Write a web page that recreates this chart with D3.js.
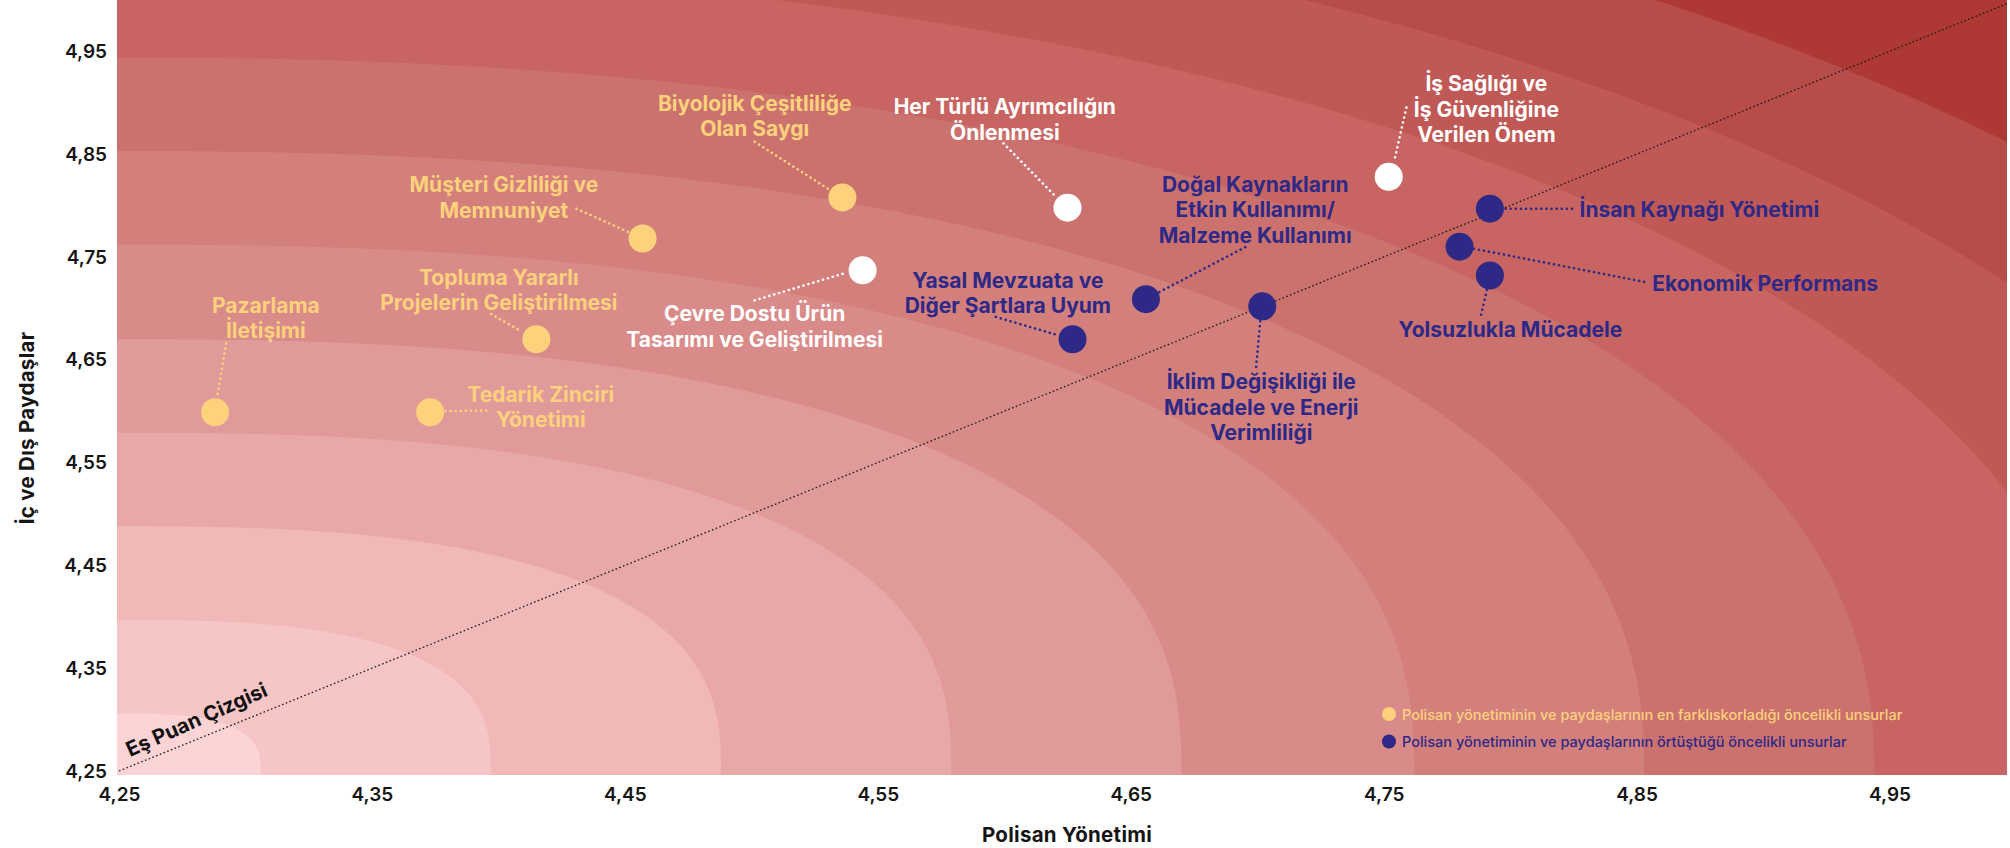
<!DOCTYPE html>
<html>
<head>
<meta charset="utf-8">
<script src="https://cdn.jsdelivr.net/npm/d3@7"></script>
<style>
  html, body { margin: 0; padding: 0; background: #fff; }
  svg { display: block; }
  text { font-family: Inter, "Noto Sans", sans-serif; }
</style>
</head>
<body>
<svg id="chart" width="2010" height="848"></svg>
<script>
// öncelikli unsurlar: Polisan yönetimi puanı (x) ve iç/dış paydaş puanı (y)
const topics = [
    ["Pazarlama", "İletişimi"],
    ["Tedarik Zinciri", "Yönetimi"],
    ["Topluma Yararlı", "Projelerin Geliştirilmesi"],
    ["Müşteri Gizliliği ve", "Memnuniyet"],
    ["Biyolojik Çeşitliliğe", "Olan Saygı"],
    ["Çevre Dostu Ürün", "Tasarımı ve Geliştirilmesi"],
    ["Her Türlü Ayrımcılığın", "Önlenmesi"],
    ["Yasal Mevzuata ve", "Diğer Şartlara Uyum"],
    ["Doğal Kaynakların", "Etkin Kullanımı/", "Malzeme Kullanımı"],
    ["İklim Değişikliği ile", "Mücadele ve Enerji", "Verimliliği"],
    ["İş Sağlığı ve", "İş Güvenliğine", "Verilen Önem"],
    ["İnsan Kaynağı Yönetimi"],
    ["Ekonomik Performans"],
    ["Yolsuzlukla Mücadele"]
];
const managementScores  = [4.288, 4.373, 4.415, 4.457, 4.536, 4.544, 4.625, 4.627, 4.656, 4.702, 4.752, 4.792, 4.780, 4.792];
const stakeholderScores = [4.599, 4.599, 4.670, 4.768, 4.808, 4.737, 4.798, 4.670, 4.709, 4.702, 4.828, 4.797, 4.760, 4.732];
// fark = farklı skorlanan, ortak = örtüşen, diger = işaretsiz (beyaz)
const groups = ["fark", "fark", "fark", "fark", "fark", "diger", "diger", "ortak", "ortak", "ortak", "diger", "ortak", "ortak", "ortak"];

const tickValues = [4.25, 4.35, 4.45, 4.55, 4.65, 4.75, 4.85, 4.95];
const legendLabels = [
    "Polisan yönetiminin ve paydaşlarının en farklıskorladığı öncelikli unsurlar",
    "Polisan yönetiminin ve paydaşlarının örtüştüğü öncelikli unsurlar"
];
const legendGroups = ["fark", "ortak"];

// styling
const groupColor = {fark: "#fed17c", ortak: "#2e2886", diger: "#ffffff"};
const bandLevels = [0.056, 0.147, 0.238, 0.329, 0.42, 0.512, 0.603, 0.694, 0.785, 0.877, 0.968];
const bandColors = ["#fcd4d5", "#f6c5c5", "#f0b8b7", "#e8a8a7", "#e09a99", "#d98b8a",
                    "#d3807d", "#cb726e", "#c86562", "#c05955", "#b84c48", "#ae3834"];

// label placement relative to each point: text offset, anchor, leader start/end
const labelLayout = [
    {dx: 50.7,   dy: -99.7,  anchor: "middle", lead: [11, -68.7, 2, -14.7]},
    {dx: 110.7,  dy: -10.4,  anchor: "middle", lead: [15.3, -1, 56.3, -1.7]},
    {dx: -37.5,  dy: -54.3,  anchor: "middle", lead: [-45.3, -25.3, -14.6, -7.6]},
    {dx: -138.7, dy: -46.3,  anchor: "middle", lead: [-66, -29.7, -13, -6]},
    {dx: -87.7,  dy: -86.6,  anchor: "middle", lead: [-87.7, -55.6, -12.7, -7.6]},
    {dx: -108,   dy: 51,     anchor: "middle", lead: [-108, 30, -15.3, 2]},
    {dx: -62.7,  dy: -93.3,  anchor: "middle", lead: [-64, -64.3, -12.7, -12]},
    {dx: -64.7,  dy: -51.3,  anchor: "middle", lead: [-76.7, -22.3, -14.4, -4]},
    {dx: 109.3,  dy: -107.6, anchor: "middle", lead: [99.3, -52, 13.3, -7]},
    {dx: -1,     dy: 83,     anchor: "middle", lead: [-2, 14.7, -6.3, 62.3]},
    {dx: 97.7,   dy: -85.6,  anchor: "middle", lead: [17.7, -69.3, 5.4, -15.6]},
    {dx: 89.7,   dy: 8,      anchor: "start",  lead: [15.7, 0, 86.7, 0]},
    {dx: 192.7,  dy: 44.4,   anchor: "start",  lead: [14.3, 2, 189, 36]},
    {dx: 20.5,   dy: 61.6,   anchor: "middle", lead: [-3, 14.3, -9.3, 41.6]}
];

const plot = {left: 117, right: 2007, top: 0, bottom: 775};
const fmt = d => d3.format(".2f")(d).replace(".", ",");

const svg = d3.select("#chart");

const x = d3.scaleLinear().domain([4.25, 5.0]).range([119, 2016]);
const y = d3.scaleLinear().domain([4.25, 5.0]).range([771, 0]);

svg.append("clipPath").attr("id", "plotclip")
    .append("rect")
    .attr("x", plot.left).attr("y", plot.top)
    .attr("width", plot.right - plot.left).attr("height", plot.bottom - plot.top);

// background bands
const step = 2;
const nx = Math.ceil((plot.right - plot.left) / step) + 2;
const ny = Math.ceil((plot.bottom - plot.top) / step) + 2;
const grid = new Float64Array(nx * ny);
for (let j = 0; j < ny; j++) {
    for (let i = 0; i < nx; i++) {
        const u = Math.max(0, x.invert(plot.left + i * step) - 4.25);
        const v = Math.max(0, y.invert(plot.top + j * step) - 4.25);
        const r = Math.sqrt(u * u + v * v);
        const p = Math.max(1.8, 2.9 - 0.95 * r);
        grid[j * nx + i] = Math.pow(Math.pow(u, p) + Math.pow(v, p), 1 / p);
    }
}
const contours = d3.contours().size([nx, ny]).thresholds(bandLevels)(grid);
const bg = svg.append("g").attr("clip-path", "url(#plotclip)");
bg.append("rect")
    .attr("x", plot.left).attr("y", plot.top)
    .attr("width", plot.right - plot.left).attr("height", plot.bottom - plot.top)
    .attr("fill", bandColors[0]);
bg.append("g")
    .attr("transform", `translate(${plot.left - step / 2},${plot.top - step / 2}) scale(${step})`)
    .selectAll("path")
    .data(contours)
    .join("path")
    .attr("d", d3.geoPath())
    .attr("fill", (d, i) => bandColors[i + 1]);

// equal score line
const diag = svg.append("g").attr("clip-path", "url(#plotclip)");
diag.append("line")
    .attr("x1", x(4.25)).attr("y1", y(4.25))
    .attr("x2", x(5.0)).attr("y2", y(5.0))
    .attr("stroke", "#1a1a1a").attr("stroke-width", 1.3)
    .attr("stroke-dasharray", "1.6 2.4");
svg.append("text")
    .attr("transform", "translate(130,757) rotate(-24)")
    .attr("font-size", 20.5).attr("font-weight", 700).attr("fill", "#111")
    .text("Eş Puan Çizgisi");

// axes
const xAxis = svg.append("g")
    .attr("transform", `translate(0,${plot.bottom})`)
    .call(d3.axisBottom(x).tickValues(tickValues).tickFormat(fmt).tickSize(0).tickPadding(13));
const yAxis = svg.append("g")
    .attr("transform", `translate(${plot.left},0)`)
    .call(d3.axisLeft(y).tickValues(tickValues).tickFormat(fmt).tickSize(0).tickPadding(10));
[xAxis, yAxis].forEach(a => {
    a.select(".domain").remove();
    a.selectAll("text")
        .attr("font-family", "Inter, sans-serif")
        .attr("font-size", 19).attr("font-weight", 600).attr("fill", "#151515");
});

svg.append("text")
    .attr("x", 1067).attr("y", 842)
    .attr("text-anchor", "middle")
    .attr("font-size", 20.5).attr("font-weight", 700).attr("fill", "#151515")
    .attr("letter-spacing", 0.3)
    .text("Polisan Yönetimi");
svg.append("text")
    .attr("transform", "translate(34,428) rotate(-90)")
    .attr("text-anchor", "middle")
    .attr("font-size", 20.5).attr("font-weight", 700).attr("fill", "#151515")
    .attr("letter-spacing", 0.3)
    .text("İç ve Dış Paydaşlar");

// points, leaders and labels
const points = topics.map((t, i) => ({
    lines: t,
    px: x(managementScores[i]),
    py: y(stakeholderScores[i]),
    color: groupColor[groups[i]],
    layout: labelLayout[i]
}));

const marks = svg.append("g");
marks.selectAll("line.leader")
    .data(points)
    .join("line")
    .attr("class", "leader")
    .attr("x1", d => d.px + d.layout.lead[0]).attr("y1", d => d.py + d.layout.lead[1])
    .attr("x2", d => d.px + d.layout.lead[2]).attr("y2", d => d.py + d.layout.lead[3])
    .attr("stroke", d => d.color).attr("stroke-width", 2.6)
    .attr("stroke-linecap", "round").attr("stroke-dasharray", "0.1 5");

marks.selectAll("circle.pt")
    .data(points)
    .join("circle")
    .attr("class", "pt")
    .attr("cx", d => d.px).attr("cy", d => d.py)
    .attr("r", 14)
    .attr("fill", d => d.color);

const labels = marks.selectAll("text.lbl")
    .data(points)
    .join("text")
    .attr("class", "lbl")
    .attr("x", d => d.px + d.layout.dx)
    .attr("y", d => d.py + d.layout.dy)
    .attr("text-anchor", d => d.layout.anchor)
    .attr("font-size", 21).attr("font-weight", 700)
    .attr("fill", d => d.color);
labels.selectAll("tspan")
    .data(d => d.lines.map((l, k) => ({l, k, x: d.px + d.layout.dx})))
    .join("tspan")
    .attr("x", d => d.x)
    .attr("dy", d => d.k === 0 ? 0 : 25.5)
    .text(d => d.l);

// legend
const legend = svg.append("g").attr("transform", "translate(1389,714)");
const li = legend.selectAll("g")
    .data(legendLabels)
    .join("g")
    .attr("transform", (d, i) => `translate(0,${i * 27.5})`);
li.append("circle")
    .attr("r", 7)
    .attr("fill", (d, i) => groupColor[legendGroups[i]]);
li.append("text")
    .attr("x", 13).attr("y", 5.5)
    .attr("font-size", 14.5).attr("font-weight", 500)
    .attr("fill", (d, i) => groupColor[legendGroups[i]])
    .text(d => d);
</script>
</body>
</html>
